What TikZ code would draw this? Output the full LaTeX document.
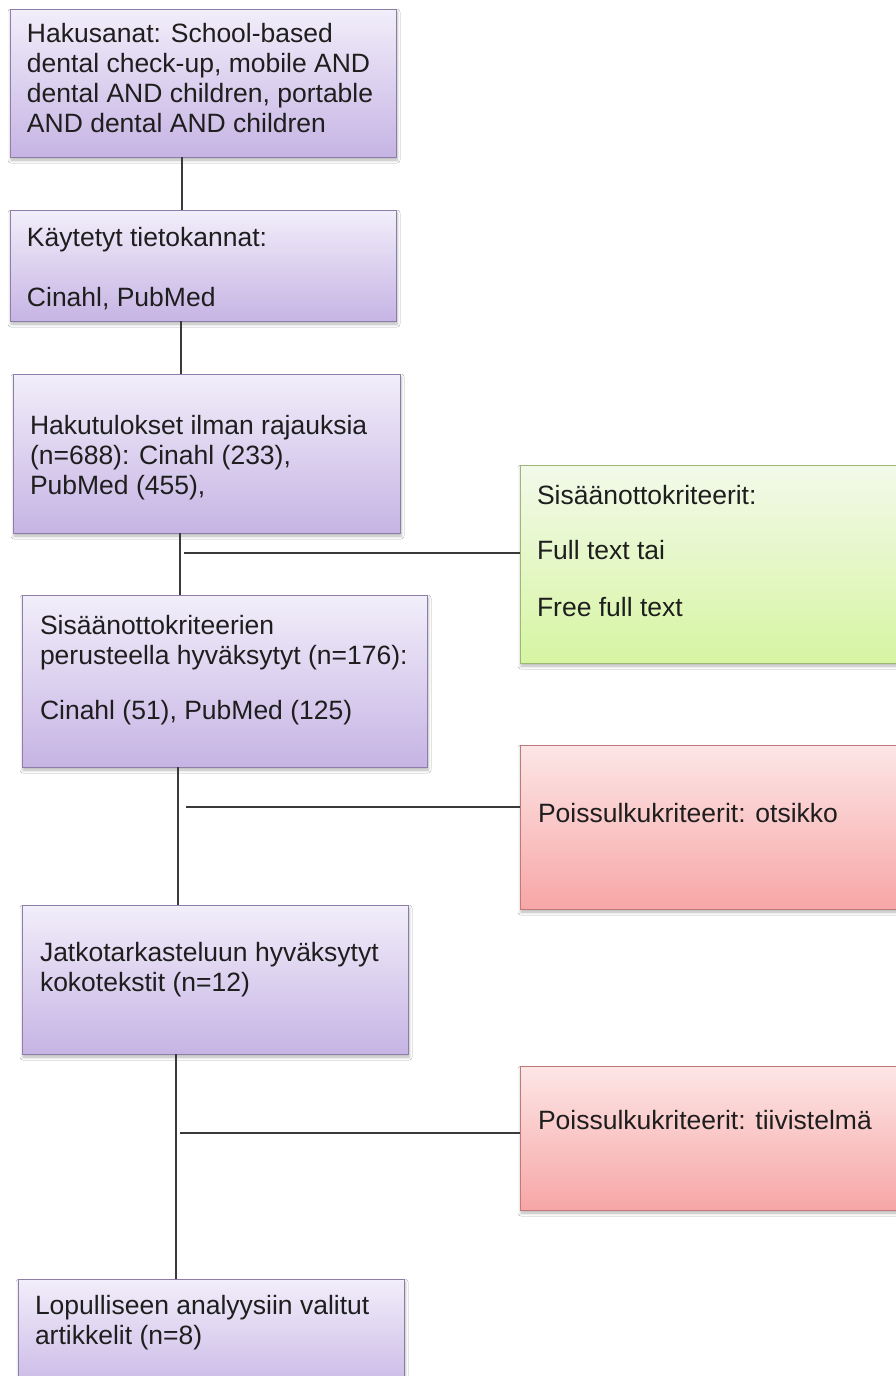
\documentclass[tikz,border=0pt]{standalone}
\usepackage{fontspec}
\setmainfont{Liberation Sans}
\usetikzlibrary{shadows.blur}
\definecolor{ptop}{RGB}{242,238,250}
\definecolor{pbot}{RGB}{198,180,228}
\definecolor{pedge}{RGB}{140,126,168}
\definecolor{gtop}{RGB}{243,249,234}
\definecolor{gbot}{RGB}{214,245,162}
\definecolor{gedge}{RGB}{158,182,118}
\definecolor{rtop}{RGB}{253,230,230}
\definecolor{rbot}{RGB}{247,166,166}
\definecolor{redge}{RGB}{192,120,120}
\definecolor{linec}{RGB}{58,58,58}
\definecolor{txtc}{RGB}{30,30,30}
\tikzset{
  boxbase/.style={rectangle, inner sep=0pt, outer sep=0pt, anchor=north west, line width=1pt,
    blur shadow={shadow blur steps=6, shadow xshift=1pt, shadow yshift=-3pt, shadow blur radius=3pt, shadow opacity=30}},
  pbox/.style={boxbase, draw=pedge, top color=ptop, bottom color=pbot},
  gbox/.style={boxbase, draw=gedge, top color=gtop, bottom color=gbot},
  rbox/.style={boxbase, draw=redge, top color=rtop, bottom color=rbot},
  txt/.style={anchor=north west, inner sep=0pt, outer sep=0pt, align=left, text=txtc,
    font=\fontsize{26.5}{30}\selectfont},
  conn/.style={draw=linec, line width=1.4pt}
}
\begin{document}
\begin{tikzpicture}[x=1pt,y=-1pt]
\fill[white] (0,0) rectangle (896,1376);
\useasboundingbox (0,0) rectangle (896,1376);

% purple boxes
\node[pbox, minimum width=386pt, minimum height=148pt] (b1) at (10,9) {};
\node[pbox, minimum width=386pt, minimum height=111pt] (b2) at (10,210) {};
\node[pbox, minimum width=387pt, minimum height=159pt] (b3) at (13,374) {};
\node[pbox, minimum width=405pt, minimum height=172pt] (b4) at (22,595) {};
\node[pbox, minimum width=386pt, minimum height=149pt] (b5) at (22,905) {};
\node[pbox, minimum width=386pt, minimum height=120pt] (b6) at (18,1279) {};
% side boxes
\node[gbox, minimum width=390pt, minimum height=198pt] (g1) at (520,465) {};
\node[rbox, minimum width=390pt, minimum height=164pt] (r1) at (520,745) {};
\node[rbox, minimum width=390pt, minimum height=144pt] (r2) at (520,1066) {};

% texts
\node[txt] (t1) at (27,23.5) {Hakusanat: School-based\\dental check-up, mobile AND\\dental AND children, portable\\AND dental AND children};
\node[txt] (t2) at (27,227.5) {Käytetyt tietokannat:\\[30pt]Cinahl, PubMed};
\node[txt] (t3) at (30,415.5) {Hakutulokset ilman rajauksia\\(n=688): Cinahl (233),\\PubMed (455),};
\node[txt] (t4) at (40,615.5) {Sisäänottokriteerien\\perusteella hyväksytyt (n=176):\\[25pt]Cinahl (51), PubMed (125)};
\node[txt] (t5) at (40,942.5) {Jatkotarkasteluun hyväksytyt\\kokotekstit (n=12)};
\node[txt] (t6) at (35,1295.5) {Lopulliseen analyysiin valitut\\artikkelit (n=8)};
\node[txt] (tg) at (537,485.5) {Sisäänottokriteerit:\\[25pt]Full text tai\\[27pt]Free full text};
\node[txt] (tr1) at (538,803.5) {Poissulkukriteerit: otsikko};
\node[txt] (tr2) at (538,1110.5) {Poissulkukriteerit: tiivistelmä};

% connector positions
\coordinate (x1) at (182,0);
\coordinate (x2) at (181,0);
\coordinate (x3) at (180,0);
\coordinate (x4) at (178,0);
\coordinate (x5) at (176,0);
\coordinate (h1) at (184,553);
\coordinate (h2) at (186,807);
\coordinate (h3) at (180,1133);

\draw[conn] (b1.south -| x1) -- (b2.north -| x1);
\draw[conn] (b2.south -| x2) -- (b3.north -| x2);
\draw[conn] (b3.south -| x3) -- (b4.north -| x3);
\draw[conn] (b4.south -| x4) -- (b5.north -| x4);
\draw[conn] (b5.south -| x5) -- (b6.north -| x5);
\draw[conn] (h1) -- (h1 -| g1.west);
\draw[conn] (h2) -- (h2 -| r1.west);
\draw[conn] (h3) -- (h3 -| r2.west);
\end{tikzpicture}
\end{document}
